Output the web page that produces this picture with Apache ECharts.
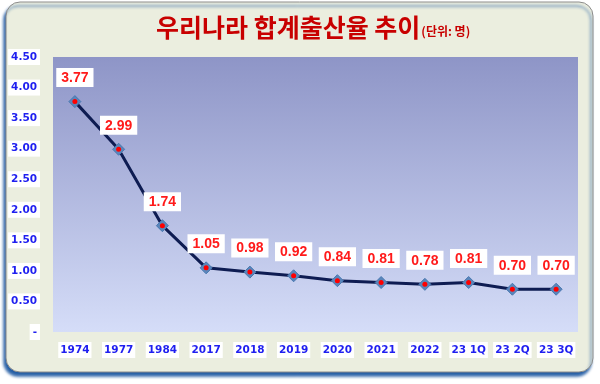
<!DOCTYPE html>
<html><head><meta charset="utf-8">
<script src="https://cdn.jsdelivr.net/npm/echarts@6/dist/echarts.min.js"></script>
<style>html,body{margin:0;padding:0;background:#fff}#c{width:600px;height:384px}</style>
</head><body><div id="c"></div>
<script>
const categories = ['1974','1977','1984','2017','2018','2019','2020','2021','2022','23 1Q','23 2Q','23 3Q'];
const values = [3.77, 2.99, 1.74, 1.05, 0.98, 0.92, 0.84, 0.81, 0.78, 0.81, 0.70, 0.70];
const yTicks = ['-', '0.50', '1.00', '1.50', '2.00', '2.50', '3.00', '3.50', '4.00', '4.50'];
const titleMain = '우리나라 합계출산율 추이';
const titleUnit = '(단위: 명)';

const chart = echarts.init(document.getElementById('c'), null, {renderer: 'canvas'});
chart.setOption({
  backgroundColor: '#ffffff',
  animation: false,
  graphic: [{
    type: 'rect', z: -10,
    shape: {x: 6, y: 2, width: 587, height: 370, r: 14},
    style: {fill: '#EBEEDF', stroke: '#8C8C8C', lineWidth: 1,
      shadowColor: 'rgba(25,85,160,0.95)', shadowBlur: 3, shadowOffsetX: -2, shadowOffsetY: 4}
  }],
  title: {
    text: '{m|' + titleMain + '}{u|' + titleUnit + '}',
    left: 151, top: 10,
    textStyle: {
      rich: {
        m: {fontFamily: 'Noto Sans CJK KR', fontSize: 25, color: '#C80000', fontWeight: 'bold'},
        u: {fontFamily: 'Noto Sans CJK KR', fontSize: 12, color: '#C80000', padding: [8, 0, 0, 1]}
      }
    }
  },
  grid: {
    left: 53, right: 22, top: 57, bottom: 52,
    show: true, borderWidth: 0,
    backgroundColor: new echarts.graphic.LinearGradient(0, 0, 0, 1, [
      {offset: 0, color: '#8E95C7'}, {offset: 1, color: '#D5DDF8'}
    ])
  },
  xAxis: {
    type: 'category', data: categories, boundaryGap: true,
    axisLine: {show: false}, axisTick: {show: false},
    axisLabel: {
      interval: 0, hideOverlap: false,
      margin: 10, color: '#1F1FF0', fontFamily: 'DejaVu Sans', fontWeight: 'bold', fontSize: 10.5,
      backgroundColor: '#ffffff', padding: [3, 2, 2, 2]
    }
  },
  yAxis: {
    type: 'value', min: 0, max: 4.5, interval: 0.5,
    splitLine: {show: false}, axisLine: {show: false}, axisTick: {show: false},
    axisLabel: {
      margin: 13, color: '#1F1FF0', fontFamily: 'DejaVu Sans', fontWeight: 'bold', fontSize: 10.5,
      backgroundColor: '#ffffff', padding: [3, 3, 2, 3],
      formatter: function (v) { return yTicks[Math.round(v / 0.5)]; }
    }
  },
  series: [{
    type: 'line', data: values,
    symbol: 'diamond', symbolSize: 12,
    itemStyle: {color: '#5A86BB', borderColor: '#4A78B0', borderWidth: 1},
    lineStyle: {color: '#0E1C52', width: 3},
    label: {
      show: true, position: 'top', distance: 8,
      formatter: function (p) { return p.value.toFixed(2); },
      color: '#FF1A1A', fontFamily: 'Liberation Sans', fontWeight: 'bold', fontSize: 14,
      backgroundColor: '#ffffff', padding: [3, 5, 2, 5]
    },
    z: 2
  }, {
    type: 'line', data: values,
    symbol: 'circle', symbolSize: 5,
    itemStyle: {color: '#FF0000'},
    lineStyle: {width: 0, opacity: 0},
    label: {show: false}, silent: true, z: 3
  }]
});
</script></body></html>
